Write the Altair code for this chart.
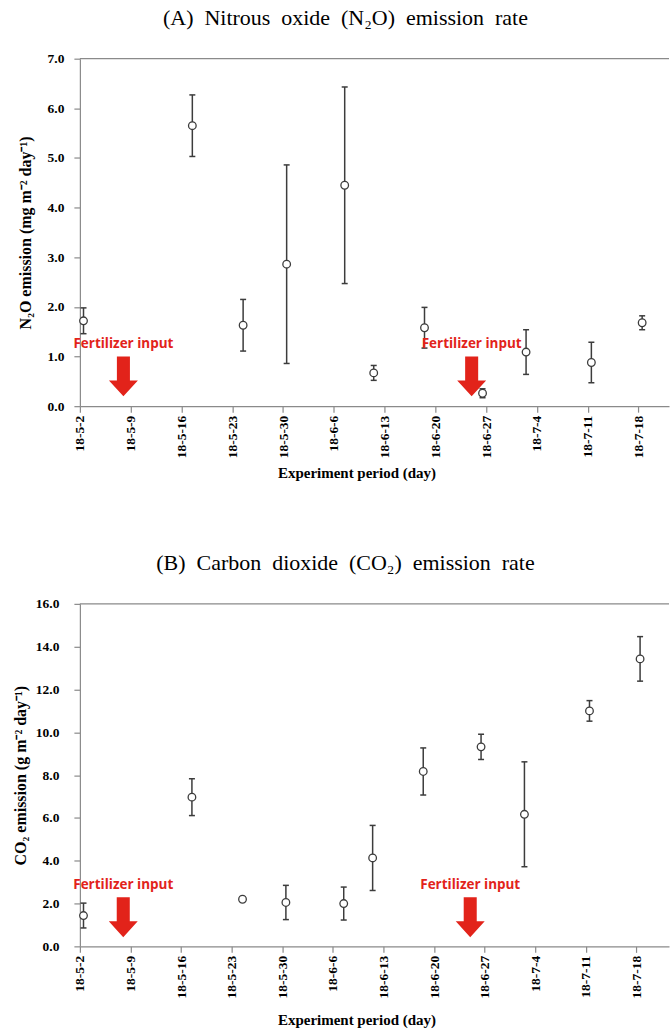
import altair as alt
import pandas as pd

# ---------------- data ----------------
dates = ["2018-05-02", "2018-05-17", "2018-05-24", "2018-05-30", "2018-06-07",
         "2018-06-11", "2018-06-18", "2018-06-26", "2018-07-02", "2018-07-11",
         "2018-07-18"]
tick_labels = ["18-5-2", "18-5-9", "18-5-16", "18-5-23", "18-5-30", "18-6-6",
               "18-6-13", "18-6-20", "18-6-27", "18-7-4", "18-7-11", "18-7-18"]

n2o_mean = [1.72, 5.65, 1.63, 2.86, 4.45, 0.67, 1.58, 0.26, 1.09, 0.88, 1.68]
n2o_err = [0.26, 0.62, 0.52, 2.00, 1.98, 0.15, 0.41, 0.09, 0.45, 0.41, 0.14]

co2_mean = [1.44, 6.97, 2.20, 2.05, 2.00, 4.13, 8.17, 9.32, 6.17, 11.00, 13.43]
co2_err = [0.58, 0.86, 0.05, 0.80, 0.77, 1.52, 1.10, 0.59, 2.45, 0.48, 1.04]

fert_dates = ["2018-05-08", "2018-06-25"]
fert_text = ["Fertilizer input", "Fertilizer input"]

# ---------------- helpers ----------------
origin = pd.Timestamp("2018-05-02")
day_of = lambda ds, shift: [(pd.Timestamp(d) - origin).days + shift for d in ds]

RED = "#e2231a"
INK = "#3c3c3c"
AX = "#8a8a8a"
SERIF = "Liberation Serif"
ARROW = "M-0.45,-1.38L0.45,-1.38L0.45,0.28L1,0.28L0,1.38L-1,0.28L-0.45,0.28Z"

label_expr = "[" + ",".join("'%s'" % t for t in tick_labels) + "][round(datum.value/7)]"
tick_vals = [7 * i for i in range(len(tick_labels))]


def panel(mean, err, ymax, ystep, title, ytitle, width, height, xmax,
          text_y, arrow_y, dx, title_x, ypad, ytpad, xtpad):
    df = pd.DataFrame({"day": day_of(dates, 0.5), "mean": mean})
    df["lo"] = df["mean"] - pd.Series(err)
    df["hi"] = df["mean"] + pd.Series(err)
    fert = pd.DataFrame({"day": day_of(fert_dates, 0.0), "label": fert_text})
    top = pd.DataFrame({"ymax": [ymax]})

    xscale = alt.Scale(domain=[0, xmax], nice=False, zero=False)
    yscale = alt.Scale(domain=[0, ymax], nice=False, zero=True)
    nvals = int(round(ymax / ystep)) + 1
    xaxis = alt.Axis(values=tick_vals, labelExpr=label_expr, labelAngle=270,
                     labelFontSize=13.5, labelPadding=3, tickSize=6,
                     labelOverlap=False, labelFlush=False,
                     title="Experiment period (day)", titleFontSize=15,
                     titleX=title_x, titlePadding=xtpad)
    yaxis = alt.Axis(values=[round(i * ystep, 1) for i in range(nvals)],
                     format=".1f", labelFontSize=13.5, tickSize=6,
                     labelPadding=ypad, title=ytitle, titleFontSize=16,
                     titlePadding=ytpad)

    X = lambda: alt.X("day:Q", scale=xscale, axis=xaxis)
    Y = lambda f: alt.Y(f, scale=yscale, axis=yaxis)

    frame = alt.Chart(top).mark_rule(color=AX, strokeWidth=1.3).encode(
        y=Y("ymax:Q"))
    bars = alt.Chart(df).mark_rule(color=INK, strokeWidth=1.5).encode(
        x=X(), y=Y("lo:Q"), y2="hi:Q")
    cap_lo = alt.Chart(df).mark_tick(orient="horizontal", size=6, thickness=1.5,
                                     color=INK, opacity=1).encode(x=X(), y=Y("lo:Q"))
    cap_hi = alt.Chart(df).mark_tick(orient="horizontal", size=6, thickness=1.5,
                                     color=INK, opacity=1).encode(x=X(), y=Y("hi:Q"))
    pts = alt.Chart(df).mark_point(shape="circle", filled=True, fill="white",
                                   stroke=INK, strokeWidth=1.3, size=58,
                                   opacity=1).encode(x=X(), y=Y("mean:Q"))
    arrows = alt.Chart(fert).mark_point(shape=ARROW, size=841, filled=True,
                                        color=RED, opacity=1, strokeWidth=0).encode(
        x=X(), y=alt.YDatum(arrow_y, scale=yscale, axis=yaxis))
    texts = alt.Chart(fert).mark_text(font="Open Sans", fontWeight="bold",
                                      fontSize=13.5, color=RED).encode(
        x=X(), y=alt.YDatum(text_y, scale=yscale, axis=yaxis), text="label:N")

    return alt.layer(frame, bars, cap_lo, cap_hi, pts, arrows, texts).properties(
        width=width, height=height,
        title=alt.TitleParams(title, font=SERIF, fontSize=22, fontWeight="normal",
                              color="black", anchor="middle", dx=dx, offset=22))


SP = "\u2002"
title_a = SP.join(["(A)", "Nitrous", "oxide", "(N\u2082O)", "emission", "rate"])
title_b = SP.join(["(B)", "Carbon", "dioxide", "(CO\u2082)", "emission", "rate"])

pa = panel(n2o_mean, n2o_err, 7.0, 1.0, title_a,
           "N\u2082O emission (mg m\u207b\u00b2 day\u207b\u00b9)",
           590, 348, 81.2, 1.25, 0.60, -29, 277, 10, 14, 8)
pb = panel(co2_mean, co2_err, 16.0, 2.0, title_b,
           "CO\u2082 emission (g m\u207b\u00b2 day\u207b\u00b9)",
           590, 343, 81.5, 2.87, 1.36, -29, 277, 15, 7, 15)

chart = alt.vconcat(pa, pb, spacing=71).properties(
    padding={"left": 12, "right": 0, "top": 6, "bottom": 4}
).configure_view(stroke=None).configure_axis(
    domainColor=AX, tickColor=AX, domainWidth=1.2, tickWidth=1.2, grid=False,
    labelFont=SERIF, labelFontWeight="bold", labelColor="black",
    titleFont=SERIF, titleFontWeight="bold", titleColor="black")

chart.save("out.html", embed_options={"renderer": "svg", "actions": False})
